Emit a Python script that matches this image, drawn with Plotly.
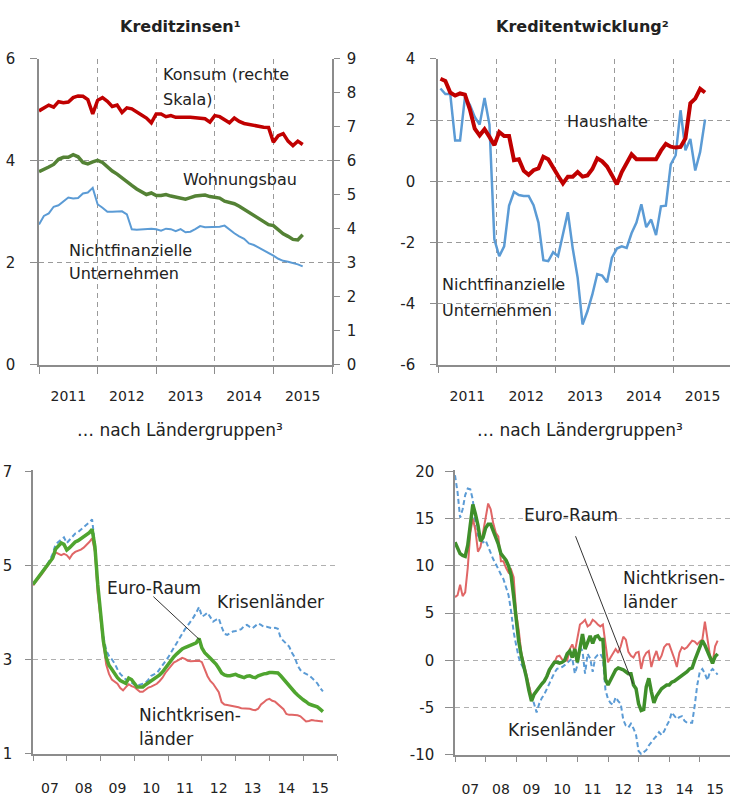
import numpy as np
import plotly.graph_objects as go

W, H = 730, 804

# ---------------- data ----------------
# Panel 1: Kreditzinsen (monthly from Jan 2011)
p1_start = 2011.0
konsum = [7.47, 7.57, 7.64, 7.58, 7.74, 7.71, 7.73, 7.86, 7.91, 7.90,
          7.80, 7.38, 7.78, 7.86, 7.75, 7.60, 7.64, 7.42, 7.56, 7.53,
          7.45, 7.35, 7.26, 7.12, 7.38, 7.38, 7.30, 7.33, 7.28, 7.27,
          7.28, 7.28, 7.27, 7.25, 7.24, 7.14, 7.33, 7.30, 7.22, 7.12,
          7.26, 7.16, 7.10, 7.07, 7.04, 7.02, 6.99, 6.98, 6.55, 6.74,
          6.80, 6.58, 6.45, 6.58, 6.48]
wohnungsbau = [3.79, 3.83, 3.88, 3.93, 4.03, 4.07, 4.07, 4.12, 4.08, 3.97,
               3.94, 3.98, 4.01, 3.97, 3.88, 3.80, 3.74, 3.66, 3.59, 3.52,
               3.45, 3.40, 3.34, 3.37, 3.32, 3.32, 3.34, 3.31, 3.29, 3.26,
               3.25, 3.28, 3.31, 3.32, 3.33, 3.30, 3.28, 3.27, 3.21, 3.19,
               3.16, 3.11, 3.05, 2.99, 2.92, 2.86, 2.80, 2.75, 2.73, 2.64,
               2.57, 2.52, 2.46, 2.45, 2.55]
nfu_zins = [2.75, 2.92, 2.97, 3.10, 3.13, 3.20, 3.28, 3.26, 3.27, 3.36,
            3.38, 3.47, 3.15, 3.08, 3.00, 3.00, 3.00, 3.01, 2.95, 2.66,
            2.65, 2.66, 2.67, 2.67, 2.66, 2.63, 2.67, 2.66, 2.62, 2.66,
            2.60, 2.61, 2.66, 2.72, 2.70, 2.70, 2.70, 2.71, 2.73, 2.65,
            2.58, 2.52, 2.47, 2.38, 2.35, 2.30, 2.25, 2.19, 2.14, 2.08,
            2.04, 2.02, 2.00, 1.97, 1.93]

# Panel 2: Kreditentwicklung (monthly, mid-month from Jan 2011)
p2_start = 2011.0 + 0.5 / 12
haushalte = [3.35, 3.28, 2.90, 2.80, 2.87, 2.83, 2.35, 1.72, 1.50, 1.70,
             1.45, 1.18, 1.61, 1.48, 1.48, 0.69, 0.72, 0.34, 0.21, 0.36,
             0.42, 0.80, 0.72, 0.43, 0.18, -0.07, 0.15, 0.15, 0.30, 0.15,
             0.19, 0.40, 0.75, 0.65, 0.48, 0.20, -0.10, 0.30, 0.62, 0.88,
             0.72, 0.72, 0.72, 0.72, 0.72, 1.00, 1.22, 1.13, 1.10, 1.12,
             1.40, 2.55, 2.70, 3.02, 2.90]
nfu_kredit = [3.03, 2.85, 2.85, 1.33, 1.33, 2.75, 2.50, 2.10, 1.85, 2.72,
              1.85, -1.90, -2.45, -2.13, -0.80, -0.35, -0.45, -0.48, -0.48, -0.78,
              -1.35, -2.58, -2.61, -2.32, -2.45, -1.70, -1.01, -2.20, -3.15, -4.68,
              -4.25, -3.70, -3.03, -3.08, -3.30, -2.50, -2.20, -2.13, -2.18, -1.70,
              -1.35, -0.75, -1.50, -1.25, -1.76, -0.82, -0.80, 0.55, 0.85, 2.32,
              1.01, 1.38, 0.35, 0.96, 2.02]

# Panel 3: Zinsen nach Ländergruppen (monthly from Jan 2007)
p3_start = 2007.0
euro_zins = [4.60, 4.68, 4.76, 4.84, 4.91, 4.99, 5.08, 5.16, 5.35, 5.42, 5.48, 5.45,
             5.33, 5.38, 5.45, 5.50, 5.53, 5.57, 5.61, 5.65, 5.70, 5.77, 5.40, 4.60,
             3.95, 3.40, 3.05, 2.88, 2.80, 2.70, 2.62, 2.56, 2.52, 2.50, 2.61, 2.58,
             2.50, 2.42, 2.42, 2.42, 2.47, 2.51, 2.56, 2.58, 2.62, 2.68, 2.74, 2.82,
             2.92, 3.00, 3.06, 3.12, 3.18, 3.23, 3.26, 3.29, 3.32, 3.34, 3.36, 3.45,
             3.25, 3.15, 3.08, 3.03, 2.97, 2.91, 2.82, 2.72, 2.68, 2.66, 2.66, 2.68,
             2.69, 2.66, 2.63, 2.62, 2.65, 2.66, 2.63, 2.62, 2.66, 2.69, 2.70, 2.71,
             2.73, 2.73, 2.73, 2.72, 2.66, 2.59, 2.50, 2.44, 2.37, 2.31, 2.25, 2.19,
             2.15, 2.11, 2.06, 2.04, 2.02, 2.00, 1.95, 1.90]
krisen_zins = [4.60, 4.68, 4.76, 4.85, 4.93, 5.02, 5.12, 5.25, 5.45, 5.50, 5.53, 5.60,
               5.48, 5.55, 5.63, 5.68, 5.71, 5.76, 5.80, 5.86, 5.92, 5.98, 5.45, 4.55,
               4.00, 3.50, 3.20, 3.08, 3.01, 2.92, 2.80, 2.70, 2.64, 2.58, 2.56, 2.52,
               2.47, 2.45, 2.47, 2.49, 2.51, 2.58, 2.66, 2.69, 2.72, 2.80, 2.88, 2.96,
               3.05, 3.15, 3.25, 3.35, 3.48, 3.56, 3.65, 3.73, 3.81, 3.90, 4.00, 4.12,
               3.92, 3.95, 4.00, 3.90, 3.81, 3.85, 3.88, 3.70, 3.55, 3.53, 3.57, 3.60,
               3.61, 3.63, 3.65, 3.72, 3.74, 3.70, 3.67, 3.72, 3.77, 3.74, 3.70, 3.70,
               3.68, 3.67, 3.68, 3.66, 3.46, 3.40, 3.33, 3.28, 3.15, 3.05, 2.88, 2.78,
               2.73, 2.70, 2.67, 2.62, 2.55, 2.50, 2.40, 2.33]
nichtkrisen_zins = [4.58, 4.65, 4.73, 4.81, 4.89, 4.97, 5.06, 5.15, 5.28, 5.25, 5.22, 5.25,
                    5.22, 5.15, 5.24, 5.29, 5.31, 5.34, 5.38, 5.43, 5.50, 5.58, 5.30, 4.40,
                    3.80, 3.35, 2.90, 2.70, 2.58, 2.53, 2.49, 2.40, 2.35, 2.42, 2.48, 2.44,
                    2.42, 2.37, 2.32, 2.32, 2.36, 2.41, 2.43, 2.46, 2.49, 2.55, 2.62, 2.72,
                    2.80, 2.88, 2.94, 2.97, 3.00, 3.04, 3.02, 2.98, 2.97, 2.97, 2.97, 2.98,
                    2.95, 2.78, 2.65, 2.55, 2.49, 2.40, 2.31, 2.10, 2.05, 2.04, 2.03, 2.02,
                    2.00, 1.99, 1.97, 1.97, 1.96, 1.96, 1.94, 1.93, 1.96, 2.05, 2.10, 2.15,
                    2.17, 2.13, 2.11, 2.05, 2.00, 1.95, 1.85, 1.83, 1.83, 1.83, 1.82, 1.80,
                    1.75, 1.69, 1.70, 1.72, 1.71, 1.70, 1.70, 1.69]

# Panel 4: Kreditentwicklung nach Ländergruppen (monthly from Jan 2007)
p4_start = 2007.0
euro_kredit = [12.5, 11.8, 11.3, 11.1, 11.0, 12.2, 14.5, 16.5, 15.5, 14.3, 12.6, 13.0,
               14.0, 14.4, 14.4, 13.7, 13.1, 12.3, 11.3, 11.0, 10.6, 10.0, 9.0, 6.8,
               4.0, 2.0, 0.5, -0.6, -1.8, -3.2, -4.3, -3.6, -3.2, -2.8, -2.5, -2.2,
               -1.7, -1.0, -0.6, -0.2, -0.2, -0.3, -0.2, 0.0, 0.7, 1.0, 0.3, 1.2,
               -0.2, 1.5, 2.8, 1.2, 2.0, 2.6, 1.8, 2.5, 2.6, 2.2, 2.2, -2.0,
               -2.6, -2.1, -1.6, -1.0, -0.8, -0.9, -1.0, -1.2, -1.4, -1.4, -2.6, -3.0,
               -4.6, -5.3, -5.2, -2.8, -1.9, -3.3, -4.5, -3.8, -3.4, -3.0, -2.8, -2.6,
               -2.6, -2.3, -2.2, -2.0, -1.9, -1.6, -1.5, -1.2, -0.9, -0.8, 0.0, 0.7,
               1.4, 2.1, 1.6, 1.0, 0.3, -0.3, 0.4, 0.7]
krisen_kredit = [19.6, 17.8, 15.1, 16.0, 17.5, 18.2, 18.1, 17.0, 14.0, 13.2, 12.8, 12.5,
                 12.7, 12.0, 11.5, 10.7, 10.2, 9.6, 9.1, 8.6, 7.8, 6.9, 5.2, 3.0,
                 1.6, 0.3, -0.4, -0.9, -1.8, -2.8, -3.7, -4.5, -5.5, -4.6, -4.0, -3.6,
                 -3.0, -2.5, -1.8, -1.3, -0.9, -0.8, -0.7, -0.5, -0.2, 0.0, 0.2, -1.4,
                 -0.5, 1.4, 1.0, -1.4, 0.7, 0.2, -1.2, 0.3, 0.6, 0.7, 0.2, -3.1,
                 -4.1, -4.5, -4.7, -3.9, -4.3, -4.6, -6.3, -6.9, -7.1, -6.7, -7.2, -7.9,
                 -9.6, -9.9, -9.7, -9.5, -9.0, -8.6, -8.3, -8.0, -7.6, -7.9, -7.5, -6.9,
                 -6.4, -5.5, -5.8, -6.2, -6.0, -5.9, -6.4, -6.6, -6.6, -6.6, -4.8, -2.6,
                 -1.2, -0.9, -1.4, -2.1, -1.2, -0.9, -1.2, -1.5]
nichtkrisen_kredit = [6.7, 6.9, 8.0, 6.8, 7.2, 9.8, 13.5, 15.0, 13.8, 11.5, 12.0, 13.5,
                      14.8, 16.6, 16.0, 14.5, 13.5, 13.1, 10.5, 10.5, 9.8, 9.3, 9.6, 8.8,
                      5.0, 3.2, 0.8, -0.3, -1.5, -2.6, -3.8, -3.6, -3.2, -2.8, -2.5, -2.2,
                      -1.8, -1.2, -0.5, -0.2, 0.4, 0.5, 0.1, 0.0, 0.0, 1.2, 1.7, 0.9,
                      2.4, 3.8, 4.0, 4.3, 3.6, 3.8, 4.3, 4.1, 3.8, 3.6, 3.8, 1.5,
                      -0.2, 0.3, 0.7, 1.2, 0.8, 1.5, 2.5, 2.2, 0.9, 0.5, 0.3, 0.8,
                      0.9, -0.9, 0.3, 0.8, 1.0, -0.7, 0.3, 1.0, 0.0, 0.5, 1.4, 1.7,
                      1.7, 1.0, 0.2, -0.7, 0.8, 1.4, 1.2, 1.4, 1.8, 2.1, 2.0, 1.7,
                      2.0, 2.2, 4.1, 2.4, 0.5, -0.3, 1.5, 2.1]

years_top = [2011, 2012, 2013, 2014, 2015]
years_bottom = ["07", "08", "09", "10", "11", "12", "13", "14", "15"]


def months(start, n):
    return start + np.arange(n) / 12.0


# ---------------- styling ----------------
FONT = "DejaVu Sans"
TXT = "#222222"
AX = "#8c8c8c"
GRID_TOP = "#9a9a9a"
GRID_BOT = "#b0b0b0"
GDASH = "5px,4px"
RED_DARK = "#c00000"
GREEN_DARK = "#548235"
BLUE = "#5b9bd5"
GREEN_B = "#4fa52f"
GREEN_B4 = "#3f8f2a"
RED_L = "#e06666"


def px_x(p):
    return p / W


def px_y(p):
    return 1 - p / H


fig = go.Figure()

# Panel 1
x1 = months(p1_start, len(konsum))
fig.add_trace(go.Scatter(x=x1, y=nfu_zins, mode="lines", line=dict(color=BLUE, width=2),
                         xaxis="x", yaxis="y", showlegend=False))
fig.add_trace(go.Scatter(x=x1, y=wohnungsbau, mode="lines", line=dict(color=GREEN_DARK, width=3.5),
                         xaxis="x", yaxis="y", showlegend=False))
fig.add_trace(go.Scatter(x=x1, y=konsum, mode="lines", line=dict(color=RED_DARK, width=3.5),
                         xaxis="x", yaxis="y2", showlegend=False))

# Panel 2
x2 = months(p2_start, len(haushalte))
fig.add_trace(go.Scatter(x=x2, y=nfu_kredit, mode="lines", line=dict(color=BLUE, width=2.5),
                         xaxis="x2", yaxis="y3", showlegend=False))
fig.add_trace(go.Scatter(x=x2, y=haushalte, mode="lines", line=dict(color=RED_DARK, width=4),
                         xaxis="x2", yaxis="y3", showlegend=False))

# Panel 3
x3 = months(p3_start, len(euro_zins))
fig.add_trace(go.Scatter(x=x3, y=krisen_zins, mode="lines", line=dict(color=BLUE, width=2, dash="5px,3px"),
                         xaxis="x3", yaxis="y4", showlegend=False))
fig.add_trace(go.Scatter(x=x3, y=nichtkrisen_zins, mode="lines", line=dict(color=RED_L, width=2),
                         xaxis="x3", yaxis="y4", showlegend=False))
fig.add_trace(go.Scatter(x=x3, y=euro_zins, mode="lines", line=dict(color=GREEN_B, width=3.5),
                         xaxis="x3", yaxis="y4", showlegend=False))

# Panel 4
x4 = months(p4_start, len(euro_kredit))
fig.add_trace(go.Scatter(x=x4, y=krisen_kredit, mode="lines", line=dict(color=BLUE, width=2, dash="5px,3px"),
                         xaxis="x4", yaxis="y5", showlegend=False))
fig.add_trace(go.Scatter(x=x4, y=nichtkrisen_kredit, mode="lines", line=dict(color=RED_L, width=2),
                         xaxis="x4", yaxis="y5", showlegend=False))
fig.add_trace(go.Scatter(x=x4, y=euro_kredit, mode="lines", line=dict(color=GREEN_B4, width=3.5),
                         xaxis="x4", yaxis="y5", showlegend=False))

tickfont = dict(family=FONT, size=14, color=TXT)


def year_axis(domain, rng, anchor, labels, first, gridcolor, showgrid, ticklen, standoff):
    n = len(labels)
    return dict(
        domain=domain, range=rng, anchor=anchor,
        tickmode="array",
        tickvals=[first + 0.5 + i for i in range(n)],
        ticktext=[str(l) for l in labels],
        ticks="", showgrid=False, zeroline=False,
        showline=True, linecolor=AX, linewidth=1.5,
        tickfont=tickfont, ticklabelstandoff=standoff,
        minor=dict(tickmode="array", tickvals=[first + i for i in range(n + 1)],
                   ticks="outside", ticklen=ticklen, tickcolor=AX, tickwidth=1.2,
                   showgrid=showgrid, gridcolor=gridcolor, griddash=GDASH, gridwidth=1),
    )


def val_axis(domain, rng, anchor, vals, gridcolor, ticklen, standoff, side="left", showgrid=True):
    return dict(
        domain=domain, range=rng, anchor=anchor, side=side,
        tickmode="array", tickvals=vals, ticktext=[str(v) for v in vals],
        showgrid=showgrid, gridcolor=gridcolor, griddash=GDASH, gridwidth=1,
        zeroline=False, showline=True, linecolor=AX, linewidth=1.5,
        ticks="outside", ticklen=ticklen, tickcolor=AX, tickwidth=1.2,
        tickfont=dict(family=FONT, size=15, color=TXT), ticklabelstandoff=standoff,
    )


top_dom = [px_y(364), px_y(51)]
bot3_dom = [px_y(762), px_y(472)]
bot4_dom = [px_y(763), px_y(472)]

layout = dict(
    width=W, height=H, autosize=False,
    margin=dict(l=0, r=0, t=0, b=0),
    paper_bgcolor="white", plot_bgcolor="white",
    font=dict(family=FONT, color=TXT),
    showlegend=False,
    xaxis=year_axis([px_x(39), px_x(332)], [2011, 2016], "y", years_top, 2011, GRID_TOP, True, 7, 18),
    yaxis=val_axis(top_dom, [0, 6], "x", [0, 2, 4, 6], GRID_TOP, 7, 12),
    yaxis2=dict(val_axis(top_dom, [0, 9], "x", list(range(10)), GRID_TOP, 6, 4, side="right", showgrid=False),
                overlaying="y"),
    xaxis2=year_axis([px_x(438), 1.0], [2011, 2011 + 292 / 58.8], "y3", years_top, 2011, GRID_TOP, True, 6, 18),
    yaxis3=val_axis(top_dom, [-6, 4], "x2", [-6, -4, -2, 0, 2, 4], GRID_TOP, 6, 12),
    xaxis3=year_axis([px_x(33), px_x(337)], [2007, 2016], "y4", years_bottom, 2007, GRID_BOT, False, 5, 21),
    yaxis4=val_axis(bot3_dom, [1, 7 + 1 / 48.2], "x3", [1, 3, 5, 7], GRID_BOT, 6, 10),
    xaxis4=year_axis([px_x(455), 1.0], [2007, 2007 + 275 / 30.6], "y5", years_bottom, 2007, GRID_BOT, False, 5, 21),
    yaxis5=val_axis(bot4_dom, [-10, 20 + 1 / 9.67], "x4", [-10, -5, 0, 5, 10, 15, 20], GRID_BOT, 8, 8),
)
fig.update_layout(**layout)

annotations = []


def title(text, cx, cy, size, bold):
    annotations.append(dict(text=(f"<b>{text}</b>" if bold else text), x=px_x(cx), y=px_y(cy),
                            xref="paper", yref="paper", xanchor="center", yanchor="middle",
                            showarrow=False, font=dict(family=FONT, size=size, color=TXT)))


def label(text, lx, cy, size):
    annotations.append(dict(text=text, x=px_x(lx), y=px_y(cy), xref="paper", yref="paper",
                            xanchor="left", yanchor="middle", showarrow=False,
                            font=dict(family=FONT, size=size, color=TXT)))


title("Kreditzinsen¹", 180, 18, 16, True)
title("Kreditentwicklung²", 582, 18, 16, True)
title("… nach Ländergruppen³", 180, 431, 17, False)
title("… nach Ländergruppen³", 580, 431, 17, False)

label("Konsum (rechte", 161, 67, 16)
label("Skala)", 161, 93, 16)
label("Wohnungsbau", 181, 174, 16)
label("Nichtfinanzielle", 67, 247, 16)
label("Unternehmen", 67, 271, 16)

label("Haushalte", 565, 115, 16)
label("Nichtfinanzielle", 440, 282, 16)
label("Unternehmen", 440, 308, 16)

label("Euro-Raum", 105, 592, 17)
label("Krisenländer", 215, 607, 17)
label("Nichtkrisen-", 137, 722, 17)
label("länder", 137, 747, 17)

label("Euro-Raum", 522, 518, 17)
label("Nichtkrisen-", 621, 582, 17)
label("länder", 621, 607, 17)
label("Krisenländer", 506, 738, 17)

# leader lines
annotations.append(dict(text="", x=2011.94, y=3.42, xref="x3", yref="y4",
                        ax=2010.52, ay=4.37, axref="x3", ayref="y4",
                        showarrow=True, arrowhead=0, arrowwidth=1, arrowcolor="#333333"))
annotations.append(dict(text="", x=2012.82, y=-2.5, xref="x4", yref="y5",
                        ax=2010.92, ay=13.3, axref="x4", ayref="y5",
                        showarrow=True, arrowhead=0, arrowwidth=1, arrowcolor="#333333"))

fig.update_layout(annotations=annotations)

post = (
    "var s=document.createElement('style');"
    "s.innerHTML='html,body{margin:0!important;padding:0!important;overflow:hidden!important;"
    "width:730px;height:804px;}"
    ".plotly-graph-div{position:fixed!important;top:0px!important;left:0px!important;}';"
    "document.head.appendChild(s);"
)
fig.write_html("out.html", config={"displayModeBar": False}, post_script=post)
